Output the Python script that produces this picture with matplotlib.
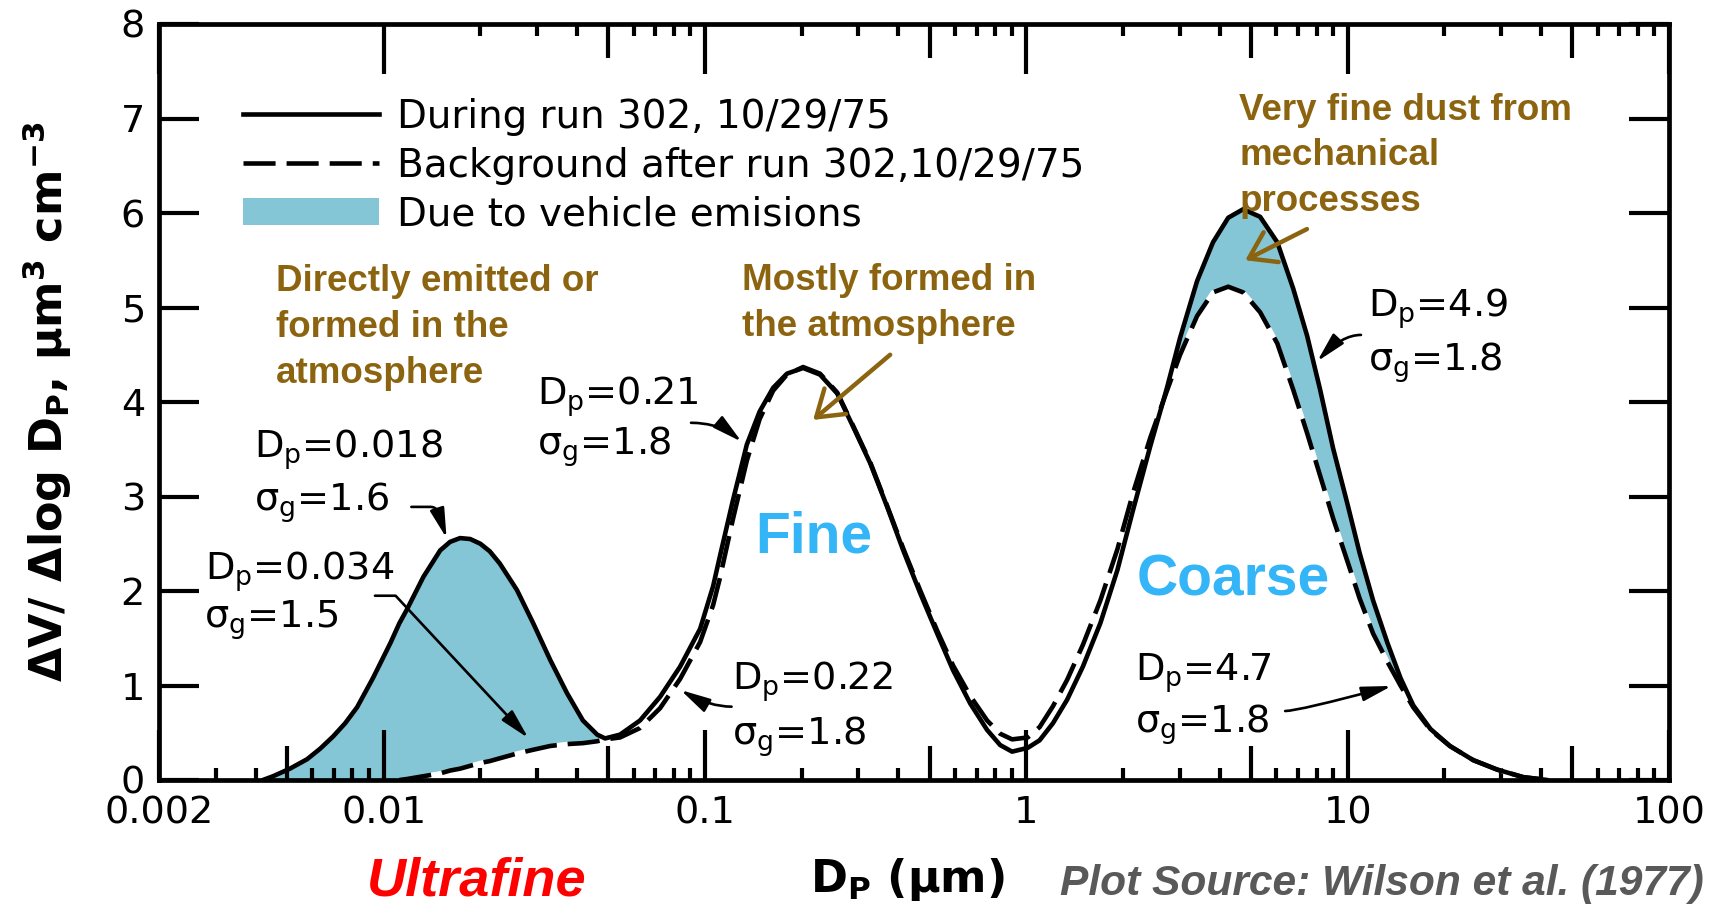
import numpy as np
import matplotlib
matplotlib.use("Agg")
import matplotlib.pyplot as plt
from matplotlib.lines import Line2D
from matplotlib.patches import Patch

# ---------------------------------------------------------------------------
# Volume size distribution, Wilson et al. (1977), freeway run 302, 10/29/75
# ---------------------------------------------------------------------------
diameter_um = [0.00421, 0.00453, 0.00511, 0.00578, 0.00634, 0.00696, 0.00759,
               0.00827, 0.00927, 0.0105, 0.0112, 0.0118, 0.0133, 0.0150,
               0.0161, 0.0173, 0.0186, 0.0200, 0.0214, 0.0230, 0.0260,
               0.0292, 0.0330, 0.0372, 0.0417, 0.0462, 0.0489, 0.0544,
               0.0628, 0.0725, 0.0837, 0.0966, 0.106, 0.111, 0.122, 0.135,
               0.148, 0.163, 0.180, 0.202, 0.228, 0.258, 0.289, 0.327,
               0.369, 0.414, 0.467, 0.528, 0.592, 0.669, 0.755, 0.829,
               0.903, 1.01, 1.10, 1.21, 1.34, 1.50, 1.70, 1.92, 2.15, 2.43,
               2.74, 3.01, 3.40, 3.81, 4.25, 4.73, 5.34, 6.04, 6.77, 7.48,
               8.21, 9.01, 9.97, 10.9, 12.0, 13.3, 14.6, 16.0, 18.1, 20.8,
               24.6, 29.2, 35.2, 41.8]

# dV/dlogDp during run 302 (um^3 cm^-3)
dv_run = [0.00, 0.04, 0.12, 0.22, 0.33, 0.46, 0.60, 0.77, 1.08, 1.45, 1.66,
          1.80, 2.15, 2.43, 2.52, 2.56, 2.55, 2.50, 2.42, 2.29, 2.01, 1.66,
          1.27, 0.92, 0.63, 0.48, 0.44, 0.48, 0.63, 0.88, 1.20, 1.60, 2.05,
          2.35, 2.95, 3.55, 3.90, 4.15, 4.30, 4.36, 4.29, 4.09, 3.74, 3.35,
          2.89, 2.43, 1.98, 1.55, 1.16, 0.81, 0.53, 0.37, 0.30, 0.34, 0.42,
          0.60, 0.85, 1.20, 1.66, 2.22, 2.86, 3.53, 4.15, 4.68, 5.28, 5.69,
          5.95, 6.04, 5.96, 5.69, 5.20, 4.70, 4.13, 3.51, 2.93, 2.40, 1.90,
          1.45, 1.08, 0.79, 0.54, 0.36, 0.21, 0.11, 0.03, 0.00]

# dV/dlogDp background after run 302 (no data below ~0.011 um)
dv_background = [np.nan, np.nan, np.nan, np.nan, np.nan, np.nan, np.nan,
                 np.nan, np.nan, np.nan, 0.00, 0.01, 0.04, 0.07, 0.10, 0.12,
                 0.15, 0.18, 0.20, 0.23, 0.28, 0.32, 0.36, 0.38, 0.39, 0.41,
                 0.43, 0.45, 0.55, 0.76, 1.07, 1.46, 1.85, 2.12, 2.75, 3.38,
                 3.82, 4.12, 4.29, 4.37, 4.30, 4.10, 3.75, 3.36, 2.90, 2.45,
                 2.01, 1.58, 1.21, 0.89, 0.63, 0.49, 0.43, 0.45, 0.56, 0.78,
                 1.06, 1.43, 1.90, 2.44, 3.04, 3.62, 4.12, 4.50, 4.91, 5.16,
                 5.22, 5.16, 4.95, 4.62, 4.13, 3.67, 3.22, 2.77, 2.32, 1.92,
                 1.55, 1.25, 1.00, 0.77, 0.53, 0.36, 0.21, 0.11, 0.03, 0.00]

# Size ranges in which the vehicle contribution is shaded
ultrafine_upper_um = 0.05
coarse_lower_um = 2.5

x_ticks = [0.002, 0.01, 0.1, 1, 10, 100]
x_tick_labels = ["0.002", "0.01", "0.1", "1", "10", "100"]
y_ticks = [0, 1, 2, 3, 4, 5, 6, 7, 8]

legend_labels = ["During run 302, 10/29/75",
                 "Background after run 302,10/29/75",
                 "Due to vehicle emisions"]

# ---------------------------------------------------------------------------
plt.rcParams["font.family"] = ["DejaVu Sans"]
plt.rcParams["mathtext.fontset"] = "dejavusans"

FILL = "#84C5D6"
BROWN = "#8C6410"
SKY = "#33B5F7"
LW = 3.3
DASH = (7, 2.4)
ARIAL = "Liberation Sans"

d = np.array(diameter_um)
run = np.array(dv_run)
bg = np.array(dv_background)

fig = plt.figure(figsize=(17.19, 9.10), dpi=100)
ax = fig.add_axes([159 / 1719, 1 - 780 / 910, 1510 / 1719, 756 / 910])

ax.set_xscale("log")
ax.set_xlim(0.002, 100)
ax.set_ylim(0, 8)

# shaded vehicle contribution
bg_floor = np.nan_to_num(bg, nan=0.0)
in_modes = (d <= ultrafine_upper_um) | (d >= coarse_lower_um)
ax.fill_between(d, bg_floor, run, where=(run >= bg_floor) & in_modes,
                interpolate=True, facecolor=FILL, edgecolor="none",
                zorder=1)

ax.plot(d, bg, color="black", lw=LW, dashes=DASH, gapcolor="white",
        solid_capstyle="butt", zorder=3)
ax.plot(d, run, color="black", lw=LW, solid_capstyle="round", zorder=4)

# axes frame and ticks
for sp in ax.spines.values():
    sp.set_linewidth(3.4)

ax.set_xticks(x_ticks)
ax.set_xticklabels(x_tick_labels)
ax.xaxis.set_minor_locator(matplotlib.ticker.NullLocator())
ax.set_yticks(y_ticks)
ax.tick_params(axis="x", which="major", direction="in", length=36, width=3,
               top=True, labelsize=27.5, pad=11)
ax.tick_params(axis="y", which="major", direction="in", length=29, width=3,
               right=True, labelsize=27.5, pad=10)

short_minor = [k * 10.0 ** e for e in range(-3, 2) for k in (2, 3, 4, 6, 7, 8, 9)]
short_minor = [v for v in short_minor if 0.002 < v < 100]
mid_minor = [5 * 10.0 ** e for e in range(-3, 2)]
xt = ax.get_xaxis_transform()
h_short, h_mid = 12 / 756, 34 / 756
ax.vlines(short_minor, 0, h_short, transform=xt, color="black", lw=3,
          zorder=2.5, clip_on=False)
ax.vlines(mid_minor, 0, h_mid, transform=xt, color="black", lw=3,
          zorder=2.5, clip_on=False)
top_short = [v for v in short_minor if v > 0.01]
top_mid = [v for v in mid_minor if v > 0.01]
ax.vlines(top_short, 1 - h_short, 1, transform=xt, color="black", lw=3,
          zorder=2.5, clip_on=False)
ax.vlines(top_mid, 1 - h_mid, 1, transform=xt, color="black", lw=3,
          zorder=2.5, clip_on=False)

# axis labels
ax.set_xlabel(r"D$_\mathbf{P}$ (μm)", fontsize=32, fontweight="bold",
              va="center")
ax.xaxis.set_label_coords(0.4954, -0.132)
ax.set_ylabel(r"ΔV/ Δlog D$_\mathbf{P}$, μm$^\mathbf{3}$ cm$^{\mathbf{-3}}$",
              fontsize=32, fontweight="bold", va="center", ha="center")
ax.yaxis.set_label_coords(-0.0742, 0.5)

# legend
handles = [Line2D([], [], color="black", lw=LW),
           Line2D([], [], color="black", lw=LW, dashes=DASH),
           Patch(facecolor=FILL, edgecolor="none")]
ax.legend(handles, legend_labels, loc="upper left",
          bbox_to_anchor=(0.0556, 0.902), frameon=False, fontsize=28,
          handlelength=3.5, handletextpad=0.45, labelspacing=0.27,
          borderpad=0, borderaxespad=0)

# mode parameter labels
mode_fs = 27.5
mode_labels = [
    (0.00395, 3.41, r"D$_\mathregular{p}$=0.018"),
    (0.00394, 2.85, r"σ$_\mathregular{g}$=1.6"),
    (0.00278, 2.12, r"D$_\mathregular{p}$=0.034"),
    (0.00277, 1.61, r"σ$_\mathregular{g}$=1.5"),
    (0.0300, 3.97, r"D$_\mathregular{p}$=0.21"),
    (0.0300, 3.44, r"σ$_\mathregular{g}$=1.8"),
    (0.121, 0.952, r"D$_\mathregular{p}$=0.22"),
    (0.121, 0.370, r"σ$_\mathregular{g}$=1.8"),
    (11.6, 4.90, r"D$_\mathregular{p}$=4.9"),
    (11.6, 4.33, r"σ$_\mathregular{g}$=1.8"),
    (2.18, 1.05, r"D$_\mathregular{p}$=4.7"),
    (2.18, 0.50, r"σ$_\mathregular{g}$=1.8"),
]
for x, y, s in mode_labels:
    ax.text(x, y, s, fontsize=mode_fs, ha="left", va="baseline", zorder=5)

black_arrow = dict(arrowstyle="-|>,head_length=0.9,head_width=0.22",
                   mutation_scale=20, color="black", lw=1.9,
                   shrinkA=0, shrinkB=0)


def pointer(tip, tail, style):
    props = dict(black_arrow)
    props["connectionstyle"] = style
    ax.annotate("", xy=tip, xytext=tail, arrowprops=props, zorder=6)


pointer((0.0157, 2.56), (0.0122, 2.89), "angle,angleA=0,angleB=108,rad=6")
pointer((0.0282, 0.444), (0.0094, 1.95), "angle,angleA=0,angleB=133,rad=0")
pointer((0.130, 3.58), (0.0905, 3.78), "angle3,angleA=0,angleB=-40")
pointer((0.0840, 0.952), (0.121, 0.776), "angle3,angleA=0,angleB=150")
pointer((8.04, 4.43), (11.0, 4.71), "angle3,angleA=0,angleB=47")
pointer((13.7, 0.995), (6.39, 0.73), "angle3,angleA=0,angleB=15")

# process annotations (anchored at the baseline of their last line)
brown_fs = 26.5
note_style = dict(fontsize=brown_fs, fontweight="bold", family=ARIAL,
                  color=BROWN, ha="left", va="baseline", linespacing=1.4,
                  zorder=5)
ax.text(0.00462, 4.20, "Directly emitted or\nformed in the\natmosphere",
        **note_style)
ax.text(0.130, 4.70, "Mostly formed in\nthe atmosphere", **note_style)
ax.text(4.60, 6.02, "Very fine dust from\nmechanical\nprocesses",
        **note_style)

brown_arrow = dict(arrowstyle="->,head_length=0.45,head_width=0.3",
                   mutation_scale=40, color=BROWN, lw=3.2,
                   shrinkA=0, shrinkB=0)
ax.annotate("", xy=(0.217, 3.81), xytext=(0.377, 4.50),
            arrowprops=brown_arrow, zorder=6)
ax.annotate("", xy=(4.80, 5.50), xytext=(7.47, 5.83),
            arrowprops=brown_arrow, zorder=6)

# mode names
ax.text(0.143, 2.41, "Fine", fontsize=41, fontweight="bold", family=ARIAL,
        color=SKY, ha="left", va="baseline", zorder=5)
ax.text(2.21, 1.95, "Coarse", fontsize=41, fontweight="bold", family=ARIAL,
        color=SKY, ha="left", va="baseline", zorder=5)
fig.text(367 / 1719, 1 - 895 / 910, "Ultrafine", fontsize=39,
         fontweight="bold", fontstyle="italic", family=ARIAL, color="red",
         ha="left", va="baseline")
fig.text(1060 / 1719, 1 - 895 / 910, "Plot Source: Wilson et al. (1977)",
         fontsize=30.6, fontweight="bold", fontstyle="italic", family=ARIAL,
         color="#595959", ha="left", va="baseline")

fig.savefig("out.png", dpi=100)
